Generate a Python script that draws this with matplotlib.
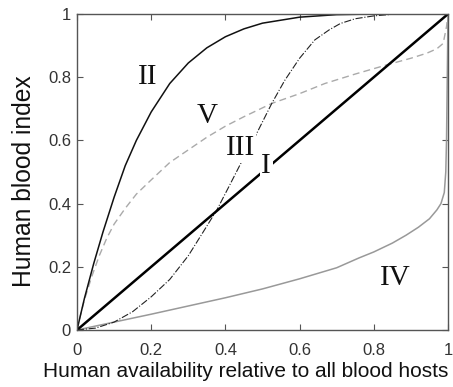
import matplotlib
matplotlib.use("Agg")
import matplotlib.pyplot as plt

# ---- data ----
x_I = [0.0, 1.0]
y_I = [0.0, 1.0]

x_II = [0.0, 0.02, 0.045, 0.07, 0.1, 0.13, 0.16, 0.2, 0.25, 0.3, 0.35, 0.4, 0.45, 0.5, 0.6, 0.7, 0.8, 0.9, 1.0]
y_II = [0.0, 0.10, 0.21, 0.31, 0.42, 0.52, 0.60, 0.69, 0.78, 0.845, 0.893, 0.928, 0.953, 0.971, 0.99, 0.998, 1.0, 1.0, 1.0]

x_III = [0.0, 0.05, 0.1, 0.15, 0.2, 0.25, 0.3, 0.34, 0.377, 0.41, 0.444, 0.48, 0.525, 0.56, 0.6, 0.641, 0.68, 0.71, 0.75, 0.8, 0.85, 0.9, 1.0]
y_III = [0.0, 0.006, 0.025, 0.058, 0.105, 0.16, 0.235, 0.31, 0.38, 0.455, 0.533, 0.612, 0.717, 0.79, 0.86, 0.918, 0.95, 0.97, 0.985, 0.994, 0.999, 1.0, 1.0]

x_IV = [0.0, 0.1, 0.2, 0.3, 0.4, 0.5, 0.6, 0.7, 0.76, 0.8, 0.85, 0.887, 0.92, 0.95, 0.97, 0.981, 0.99, 0.994, 0.996, 0.998, 1.0]
y_IV = [0.0, 0.025, 0.05, 0.076, 0.102, 0.13, 0.162, 0.197, 0.228, 0.247, 0.275, 0.30, 0.325, 0.352, 0.38, 0.40, 0.435, 0.50, 0.60, 0.80, 1.0]

x_V = [0.0, 0.01, 0.02, 0.04, 0.06, 0.08, 0.1, 0.13, 0.16, 0.2, 0.25, 0.3, 0.35, 0.4, 0.45, 0.525, 0.6, 0.668, 0.75, 0.835, 0.9, 0.943, 0.97, 0.987, 0.996, 1.0]
y_V = [0.0, 0.05, 0.095, 0.17, 0.235, 0.29, 0.335, 0.385, 0.43, 0.475, 0.53, 0.57, 0.61, 0.645, 0.675, 0.717, 0.748, 0.78, 0.81, 0.839, 0.86, 0.876, 0.89, 0.907, 0.96, 1.0]

labels = ["I", "II", "III", "IV", "V"]
label_pos = {"I": (0.51, 0.52), "II": (0.19, 0.80), "III": (0.44, 0.575),
             "IV": (0.857, 0.164), "V": (0.35, 0.677)}

xticks = [0, 0.2, 0.4, 0.6, 0.8, 1]
yticks = [0, 0.2, 0.4, 0.6, 0.8, 1]
xtick_labels = ["0", "0.2", "0.4", "0.6", "0.8", "1"]
ytick_labels = ["0", "0.2", "0.4", "0.6", "0.8", "1"]

# ---- figure ----
W, H = 453, 387
fig = plt.figure(figsize=(W / 100, H / 100), dpi=100)
ax = fig.add_axes([77 / W, 1 - 330 / H, (448 - 77) / W, (330 - 14) / H])

ax.plot(x_IV, y_IV, color="#999999", lw=1.1, solid_joinstyle="round")
ax.plot(x_V, y_V, color="#aaaaaa", lw=1.0, linestyle=(0, (5, 3)))
ax.plot(x_III, y_III, color="#222222", lw=0.8, linestyle="-.")
ax.plot(x_II, y_II, color="#111111", lw=1.1)
ax.plot(x_I, y_I, color="#000000", lw=1.8)

for lab in labels:
    px, py = label_pos[lab]
    ax.text(px, py, lab, family="Liberation Serif", fontsize=21,
            ha="center", va="center", color="#111111",
            bbox=dict(facecolor="white", edgecolor="none", pad=1.0), zorder=5)

ax.set_xlim(0, 1)
ax.set_ylim(0, 1)
ax.set_xticks(xticks)
ax.set_xticklabels(xtick_labels)
ax.set_yticks(yticks)
ax.set_yticklabels(ytick_labels)
axcol = "#555555"
for s in ax.spines.values():
    s.set_color(axcol)
    s.set_linewidth(1.0)
ax.tick_params(direction="in", top=True, right=True, length=4, width=0.8,
               colors=axcol, labelcolor="#333333", labelsize=12)
ax.tick_params(axis="x", pad=9.4)
ax.tick_params(axis="y", pad=4.3)
for t in ax.get_xticklabels() + ax.get_yticklabels():
    t.set_family("Liberation Sans")

fig.text(246 / W, 1 - 377 / H, "Human availability relative to all blood hosts",
         family="Liberation Sans", fontsize=15, color="#111111",
         ha="center", va="baseline")
fig.text(24 / W, 1 - 181 / H, "Human blood index", family="Liberation Sans",
         fontsize=17.7, color="#111111", rotation=90, ha="center", va="center")

fig.savefig("out.png", dpi=100)
